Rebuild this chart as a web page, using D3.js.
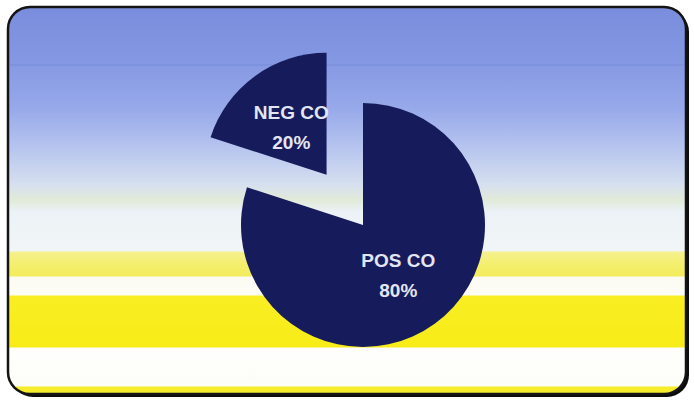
<!DOCTYPE html>
<html>
<head>
<meta charset="utf-8">
<script src="https://cdn.jsdelivr.net/npm/d3@7"></script>
<style>
  html, body { margin: 0; padding: 0; background: #ffffff; }
  svg { display: block; }
</style>
</head>
<body>
<svg id="chart" width="694" height="401"></svg>
<script>
// Slice data, in drawing order (clockwise from 12 o'clock)
const categories = ["POS CO", "NEG CO"];
const values = [80, 20];
const pctLabels = ["80%", "20%"];
const exploded = [false, true];

const W = 694, H = 401;
const svg = d3.select("#chart");
const defs = svg.append("defs");

// Panel frame
const frame = { x: 8, y: 7, w: 678, h: 387, r: 22 };

// Sky-to-stripes backdrop
const bg = defs.append("linearGradient")
  .attr("id", "bg")
  .attr("gradientUnits", "userSpaceOnUse")
  .attr("x1", 0).attr("y1", frame.y)
  .attr("x2", 0).attr("y2", frame.y + frame.h);
const stops = [
  [7, "#7a8ddd"], [60, "#8497e2"], [110, "#98aaea"], [150, "#b8c6ef"],
  [185, "#d6e0ef"], [200, "#e2ead8"], [206, "#e6eee8"], [212, "#ecf2f7"],
  [251, "#f1f5f6"],
  [252, "#f5f18e"], [264, "#f4ef6e"], [276, "#f3ec5c"],
  [277, "#fbfbf2"], [295, "#fdfdf6"],
  [296, "#f8ee22"], [347, "#f8ec18"],
  [348, "#fefefc"], [386, "#fdfdf8"],
  [387, "#f6ec2a"], [394, "#f6ec2a"]
];
stops.forEach(([y, c]) => {
  bg.append("stop")
    .attr("offset", ((y - frame.y) / frame.h * 100).toFixed(2) + "%")
    .attr("stop-color", c);
});

// Drop shadow of the panel
svg.append("rect")
  .attr("x", frame.x + 3).attr("y", frame.y + 3)
  .attr("width", frame.w).attr("height", frame.h)
  .attr("rx", frame.r).attr("ry", frame.r)
  .attr("fill", "#0c0c0c");

// Panel
svg.append("rect")
  .attr("x", frame.x).attr("y", frame.y)
  .attr("width", frame.w).attr("height", frame.h)
  .attr("rx", frame.r).attr("ry", frame.r)
  .attr("fill", "url(#bg)")
  .attr("stroke", "#141414")
  .attr("stroke-width", 2.5);

// Faint horizon line in the sky
svg.append("line")
  .attr("x1", frame.x + 2).attr("x2", frame.x + frame.w - 2)
  .attr("y1", 65).attr("y2", 65)
  .attr("stroke", "#7386d4").attr("stroke-width", 1.2).attr("opacity", 0.6);

// Pie
const cx = 363, cy = 225, R = 122, explode = 62;
const pie = d3.pie().sort(null).value(d => d.value);
const arcs = pie(categories.map((c, i) => ({ name: c, value: values[i], pct: pctLabels[i], out: exploded[i] })));
const arc = d3.arc().innerRadius(0).outerRadius(R);
const labelArc = d3.arc().innerRadius(60).outerRadius(60);

const g = svg.append("g").attr("transform", `translate(${cx},${cy})`);

const slice = g.selectAll("g.slice")
  .data(arcs)
  .join("g")
  .attr("class", "slice")
  .attr("transform", d => {
    if (!d.data.out) return null;
    const a = (d.startAngle + d.endAngle) / 2;
    return `translate(${Math.sin(a) * explode},${-Math.cos(a) * explode})`;
  });

slice.append("path")
  .attr("d", arc)
  .attr("fill", "#161b5c");

const txt = slice.append("text")
  .attr("transform", d => {
    const [x, y] = labelArc.centroid(d);
    return `translate(${x},${y})`;
  })
  .attr("text-anchor", "middle")
  .attr("font-family", "'Liberation Sans', Arial, sans-serif")
  .attr("font-weight", "bold")
  .attr("font-size", 19)
  .attr("fill", "#e3e6f2");

txt.append("tspan").attr("x", 0).attr("y", -7).text(d => d.data.name);
txt.append("tspan").attr("x", 0).attr("y", 23).text(d => d.data.pct);
</script>
</body>
</html>
